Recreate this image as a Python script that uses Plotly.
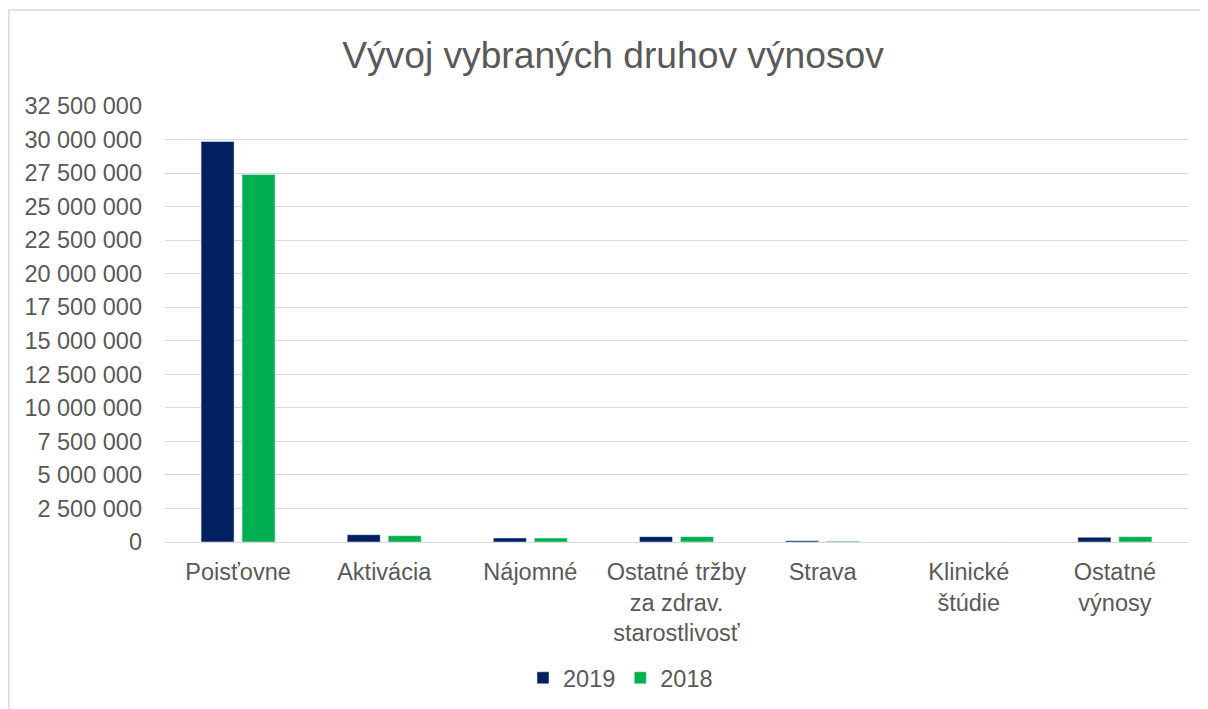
import plotly.graph_objects as go

categories = ["Poisťovne", "Aktivácia", "Nájomné", "Ostatné tržby<br>za zdrav.<br>starostlivosť",
              "Strava", "Klinické<br>štúdie", "Ostatné<br>výnosy"]
values_2019 = [29850000, 545000, 300000, 400000, 100000, 0, 350000]
values_2018 = [27390000, 470000, 290000, 400000, 60000, 0, 400000]
y_ticks = list(range(0, 32500001, 2500000))

FONT = "Liberation Sans, Arial, sans-serif"
GREY = "#595959"

# page body adds an 8px offset; figure sized/margined to compensate
W, H = 1200, 701
L, R, T, B = 157, 20, 98, 166.5
PH = H - T - B
PW = W - L - R

fig = go.Figure()
fig.add_trace(go.Bar(name="2019", x=categories, y=values_2019, marker_color="#002060"))
fig.add_trace(go.Bar(name="2018", x=categories, y=values_2018, marker_color="#00B050"))

fig.update_layout(
    width=W, height=H,
    margin=dict(l=L, r=R, t=T, b=B, autoexpand=False),
    paper_bgcolor="white", plot_bgcolor="white",
    separators=", ",
    barmode="group", bargap=0.439, bargroupgap=0.195,
    font=dict(family=FONT, size=23.5, color=GREY),
    title=dict(text="Vývoj vybraných druhov výnosov", x=(613 - 8 - L) / PW, xanchor="center",
               xref="paper", y=1 - (55 - 8) / H, yanchor="middle",
               font=dict(size=37.2, color=GREY, family=FONT)),
    legend=dict(orientation="h", xref="container", yref="container",
                x=612.5 / W, xanchor="center", y=1 - (678 - 8) / H,
                yanchor="middle", font=dict(size=23.5, color=GREY), traceorder="normal",
                itemwidth=30),
    showlegend=True,
)
fig.update_yaxes(range=[0, 32500000], tickvals=y_ticks, tickformat=",d",
                 showgrid=True, gridcolor="#D9D9D9", gridwidth=1.3,
                 zeroline=False, showline=False, ticks="", ticklabelstandoff=22,
                 automargin=False)
fig.update_xaxes(showline=True, linecolor="#D9D9D9", linewidth=1.3, ticks="",
                 showgrid=False, tickangle=0, ticklabelstandoff=9, automargin=False)

# chart outer border
fig.add_shape(type="rect", xref="paper", yref="paper",
              x0=(0.9 - L) / PW, x1=1.1, y0=-0.6, y1=(534.5 - 2) / PH,
              line=dict(color="#D9D9D9", width=1.5), fillcolor="rgba(0,0,0,0)", layer="below")

fig.write_html("out.html")
